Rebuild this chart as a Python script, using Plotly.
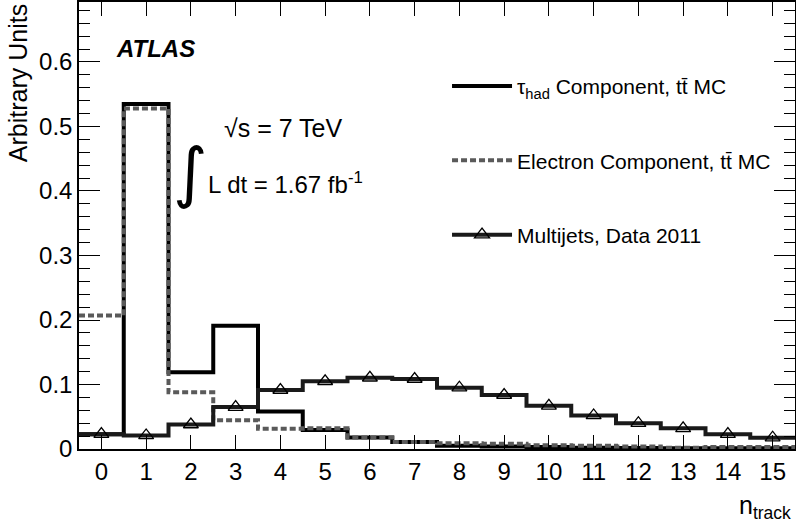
import plotly.graph_objects as go

# ---- data ----
n_track = list(range(16))
tau_had = [0.023, 0.535, 0.119, 0.191, 0.058, 0.0295, 0.018, 0.011, 0.005, 0.004, 0.003, 0.002, 0.0015, 0.001, 0.001, 0.001]
electron = [0.207, 0.528, 0.088, 0.0445, 0.0315, 0.032, 0.018, 0.011, 0.009, 0.008, 0.006, 0.005, 0.004, 0.002, 0.003, 0.003]
multijets = [0.023, 0.021, 0.038, 0.065, 0.0915, 0.105, 0.1105, 0.1085, 0.095, 0.0837, 0.067, 0.052, 0.040, 0.032, 0.023, 0.0175]
y_ticks = [0, 0.1, 0.2, 0.3, 0.4, 0.5, 0.6]
y_ticklabels = ["0", "0.1", "0.2", "0.3", "0.4", "0.5", "0.6"]
x_ticklabels = [str(v) for v in n_track]

FONT = "Liberation Sans, Arial, sans-serif"

def edges(centers):
    e = [c - 0.5 for c in centers]
    e.append(centers[-1] + 0.5)
    return e

def step_y(vals):
    return list(vals) + [vals[-1]]

xe = edges(n_track)
fig = go.Figure()

# step histograms
fig.add_trace(go.Scatter(x=xe, y=step_y(tau_had), mode="lines", line_shape="hv",
                         line=dict(color="black", width=4), showlegend=False))
fig.add_trace(go.Scatter(x=xe, y=step_y(electron), mode="lines", line_shape="hv",
                         line=dict(color="#5a5a5a", width=4, dash="6px,3px"), showlegend=False))
fig.add_trace(go.Scatter(x=xe, y=step_y(multijets), mode="lines", line_shape="hv",
                         line=dict(color="#1a1a1a", width=4), showlegend=False))
fig.add_trace(go.Scatter(x=n_track, y=multijets, mode="markers",
                         marker=dict(symbol="triangle-up-open", size=13, color="black",
                                     line=dict(width=1.3, color="black")), showlegend=False))

# legend entries
fig.add_trace(go.Scatter(x=[None], y=[None], mode="lines", line=dict(color="black", width=4),
                         name="τ<sub>had</sub> Component, tt\u0304 MC", legendgroup="a"))
fig.add_trace(go.Scatter(x=[None], y=[None], mode="lines", line=dict(color="#5a5a5a", width=4, dash="6px,3px"),
                         name="Electron Component, tt\u0304 MC", legendgroup="b"))
fig.add_trace(go.Scatter(x=[None], y=[None], mode="lines+markers", line=dict(color="#1a1a1a", width=4),
                         marker=dict(symbol="triangle-up-open", size=13, color="black", line=dict(width=1.3, color="black")),
                         name="Multijets, Data 2011", legendgroup="c"))

fig.update_layout(
    width=796, height=526,
    margin=dict(l=79, r=1, t=2, b=77, autoexpand=False),
    paper_bgcolor="white", plot_bgcolor="white",
    font=dict(family=FONT, color="black"),
    showlegend=True,
    legend=dict(x=0.514, y=0.857, xanchor="left", yanchor="top", font=dict(size=21, family=FONT),
                tracegroupgap=44, bgcolor="rgba(0,0,0,0)", itemwidth=60),
    xaxis=dict(range=[-0.5, 15.5], tickvals=n_track, ticktext=x_ticklabels, ticks="inside", ticklen=14,
               tickwidth=1.3, tickcolor="black", showline=True, linecolor="black", linewidth=1.5,
               mirror="allticks", showgrid=False, zeroline=False, tickfont=dict(size=24), automargin=False),
    yaxis=dict(range=[0, 0.693], tickvals=y_ticks, ticktext=y_ticklabels, ticks="inside", ticklen=21,
               tickwidth=1.3, tickcolor="black", showline=True, linecolor="black", linewidth=1.5,
               mirror="allticks", showgrid=False, zeroline=False, tickfont=dict(size=24), automargin=False,
               minor=dict(dtick=0.02, ticks="inside", ticklen=11, tickcolor="black", tickwidth=1.3)),
    annotations=[
        dict(text="Arbitrary Units", xref="paper", yref="paper", x=-0.085, y=1.0, xanchor="center",
             yanchor="top", textangle=-90, showarrow=False, font=dict(size=25)),
        dict(text="n<sub>track</sub>", xref="paper", yref="paper", x=0.997, y=-0.17, xanchor="right",
             yanchor="bottom", showarrow=False, font=dict(size=25)),
        dict(text="<b><i>ATLAS</i></b>", xref="paper", yref="paper", x=0.049, y=0.897, xanchor="left",
             yanchor="middle", showarrow=False, font=dict(size=24)),
        dict(text="\u221as = 7 TeV", xref="paper", yref="paper", x=0.2, y=0.718, xanchor="left",
             yanchor="middle", showarrow=False, font=dict(size=25)),
        dict(text="\u222b", xref="paper", yref="paper", x=0.155, y=0.618, xanchor="center",
             yanchor="middle", showarrow=False, font=dict(size=66, family="DejaVu Sans")),
        dict(text="L dt = 1.67 fb<sup>-1</sup>", xref="paper", yref="paper", x=0.178, y=0.595, xanchor="left",
             yanchor="middle", showarrow=False, font=dict(size=24)),
    ],
)

fig.write_html("out.html", config={"displayModeBar": False},
               post_script="document.body.style.margin='0';document.body.style.padding='0';")
